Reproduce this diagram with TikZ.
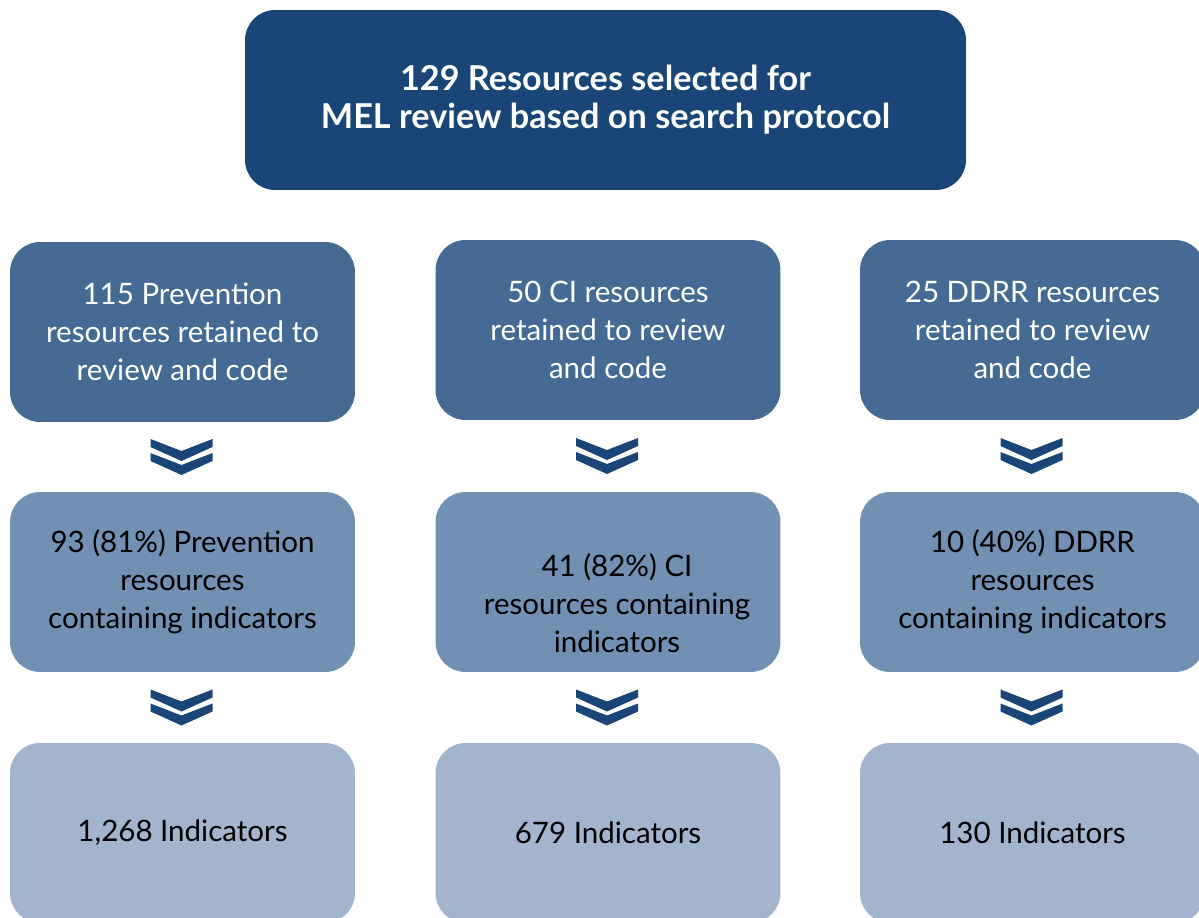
\documentclass[tikz,border=0pt]{standalone}
\usepackage{fontspec}
\setmainfont{Lato}
\usetikzlibrary{positioning,calc}

\definecolor{navy}{HTML}{1A4677}
\definecolor{stepone}{HTML}{456A93}
\definecolor{steptwo}{HTML}{7290B3}
\definecolor{stepthree}{HTML}{A3B5CC}

\begin{document}
\begin{tikzpicture}[
        x=0.02cm, y=-0.02cm,
        box/.style={rounded corners=0.6cm, minimum width=6.9cm, minimum height=3.6cm,
                inner sep=0pt, align=center, font=\fontsize{16.8}{21.5}\selectfont},
        topbox/.style={box, fill=navy, text=white, minimum width=14.42cm,
                font=\fontsize{19.5}{21.5}\selectfont\bfseries},
        retained/.style={box, fill=stepone, text=white},
        containing/.style={box, fill=steptwo, text=black},
        counted/.style={box, fill=stepthree, text=black},
        chevron/.pic={
                \foreach \dy in {0,14} {
                        \fill[navy] (-31,-18+\dy) -- (0,-6+\dy) -- (31,-18+\dy) -- (31,-10+\dy)
                            -- (0,4+\dy) -- (-31,-10+\dy) -- cycle;
                    }
            }
    ]

    \clip (0,0) rectangle (1199,918);

    % Selected resources
    \node[topbox] (sel) at (605.5,100) {129 Resources selected for\\MEL review based on search protocol};

    % Resources retained
    \node[retained] (prev1) at (182.5,332) {115 Prevention\\resources retained to\\review and code};
    \node[retained] (ci1) at (608,330) {50 CI resources\\retained to review\\and code};
    \node[retained] (ddrr1) at (1032.5,330) {25 DDRR resources\\retained to review\\and code};

    % Resources containing indicators
    \node[containing] (prev2) at (182.5,582) {93 (81\%) Prevention\\resources\\containing indicators};
    \node[containing] (ci2) at (608,582) {};
    \node[align=center, font=\fontsize{16.8}{21.5}\selectfont] at ($(ci2)+(9,21)$) {41 (82\%) CI\\resources containing\\indicators};
    \node[containing] (ddrr2) at (1032.5,582) {10 (40\%) DDRR\\resources\\containing indicators};

    % Indicator counts
    \node[counted] (prev3) at (182.5,833) {1,268 Indicators};
    \node[counted] (ci3) at (608,833) {679 Indicators};
    \node[counted] (ddrr3) at (1032.5,833) {130 Indicators};

    % Chevrons between the rows
    \foreach \a/\b in {prev1/prev2,ci1/ci2,ddrr1/ddrr2,prev2/prev3,ci2/ci3,ddrr2/ddrr3} {
            \path (\a.south) -- (\b.north) coordinate[midway] (mid);
            \pic at ([xshift=-0.02cm]mid) {chevron};
        }

\end{tikzpicture}
\end{document}
